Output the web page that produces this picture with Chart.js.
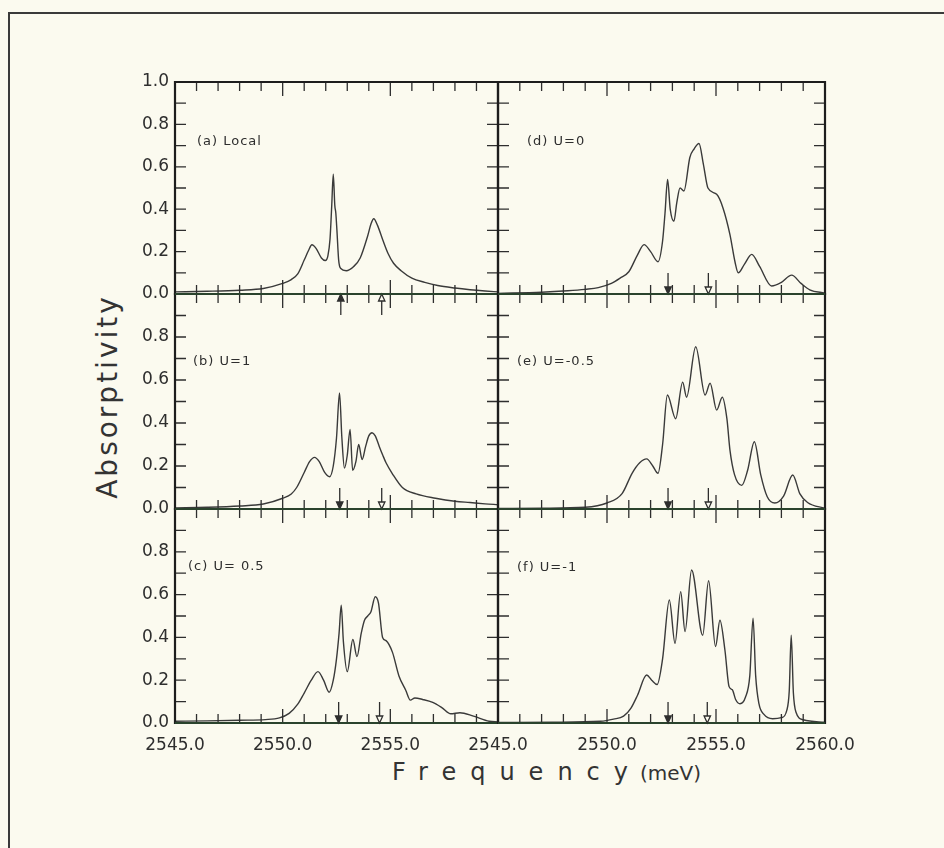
<!DOCTYPE html>
<html>
<head>
<meta charset="utf-8">
<script src="https://cdn.jsdelivr.net/npm/chart.js@4.4.1/dist/chart.umd.min.js"></script>
<style>
  body { margin: 0; background: #fbfaef; }
  #page { position: relative; width: 944px; height: 848px; overflow: hidden; background: #fbfaef;
          font-family: "DejaVu Sans", sans-serif; color: #333; }
  #frame { position: absolute; left: 8px; top: 12px; width: 980px; height: 900px;
           border-left: 2px solid #3a3a3a; border-top: 2px solid #3a3a3a; }
  canvas { position: absolute; }
  #ytitle { position: absolute; left: -42px; top: 382px; width: 300px; height: 32px; line-height: 32px;
            text-align: center; font-size: 28px; letter-spacing: 3px; padding-left: 3px; box-sizing: border-box;
            transform: rotate(-90deg); white-space: nowrap; }
  #xtitle { position: absolute; left: 392px; top: 758px; height: 28px; line-height: 28px; font-size: 24px; white-space: nowrap; }
  #xtitle .freq { letter-spacing: 14px; }
  #xtitle .unit { font-size: 20px; letter-spacing: 0; margin-left: -2px; }
</style>
</head>
<body>
<div id="page">
  <div id="frame"></div>
  <div id="ytitle">Absorptivity</div>
  <div id="xtitle"><span class="freq">Frequency</span><span class="unit">(meV)</span></div>
</div>
<script>
// frequencies (meV) and absorptivity
const freqA = [2545.0, 2546.5, 2548.0, 2549.1, 2550.0, 2550.4, 2550.7, 2551.0, 2551.2, 2551.36, 2551.55, 2551.8, 2551.98, 2552.1, 2552.2, 2552.28, 2552.35, 2552.42, 2552.47, 2552.52, 2552.6, 2552.7, 2552.95, 2553.3, 2553.6, 2553.95, 2554.1, 2554.23, 2554.4, 2554.65, 2554.9, 2555.15, 2555.5, 2556.0, 2556.6, 2557.2, 2558.0, 2558.7, 2559.4, 2560.0];
const absA  = [0.01, 0.013, 0.018, 0.026, 0.05, 0.068, 0.095, 0.16, 0.205, 0.232, 0.215, 0.17, 0.158, 0.18, 0.26, 0.42, 0.565, 0.42, 0.38, 0.3, 0.16, 0.12, 0.11, 0.13, 0.17, 0.275, 0.33, 0.355, 0.325, 0.255, 0.19, 0.145, 0.11, 0.075, 0.055, 0.04, 0.028, 0.02, 0.014, 0.01];

const freqB = [2545.0, 2546.5, 2548.0, 2549.1, 2550.0, 2550.4, 2550.65, 2551.0, 2551.25, 2551.48, 2551.7, 2551.95, 2552.18, 2552.35, 2552.5, 2552.64, 2552.75, 2552.87, 2553.0, 2553.13, 2553.25, 2553.4, 2553.53, 2553.69, 2553.85, 2554.0, 2554.15, 2554.3, 2554.49, 2554.65, 2554.8, 2555.09, 2555.56, 2556.2, 2557.1, 2558.0, 2558.7, 2559.4, 2560.0];
const absB  = [0.005, 0.008, 0.014, 0.023, 0.05, 0.07, 0.10, 0.17, 0.22, 0.24, 0.22, 0.17, 0.15, 0.2, 0.33, 0.54, 0.33, 0.19, 0.25, 0.37, 0.18, 0.22, 0.30, 0.23, 0.29, 0.34, 0.355, 0.34, 0.29, 0.25, 0.215, 0.165, 0.10, 0.07, 0.05, 0.036, 0.03, 0.024, 0.02];

const freqC = [2545.0, 2546.5, 2548.0, 2549.2, 2549.85, 2550.3, 2550.7, 2551.0, 2551.33, 2551.64, 2551.9, 2552.16, 2552.35, 2552.5, 2552.62, 2552.72, 2552.82, 2553.0, 2553.26, 2553.45, 2553.65, 2553.8, 2553.95, 2554.1, 2554.3, 2554.45, 2554.64, 2554.8, 2555.1, 2555.4, 2555.72, 2555.93, 2556.14, 2556.5, 2556.97, 2557.39, 2557.81, 2558.23, 2558.86, 2559.59, 2560.0];
const absC  = [0.008, 0.01, 0.013, 0.016, 0.024, 0.045, 0.088, 0.14, 0.2, 0.24, 0.2, 0.144, 0.2, 0.3, 0.42, 0.55, 0.38, 0.24, 0.39, 0.31, 0.42, 0.48, 0.50, 0.52, 0.59, 0.56, 0.40, 0.385, 0.33, 0.22, 0.152, 0.107, 0.117, 0.11, 0.096, 0.072, 0.043, 0.048, 0.032, 0.008, 0.005];

const freqD = [2545.0, 2547.0, 2548.2, 2549.0, 2549.6, 2550.2, 2550.6, 2551.0, 2551.4, 2551.7, 2552.0, 2552.34, 2552.55, 2552.66, 2552.78, 2552.9, 2553.07, 2553.2, 2553.35, 2553.53, 2553.8, 2554.0, 2554.22, 2554.42, 2554.63, 2555.03, 2555.32, 2555.64, 2555.87, 2556.02, 2556.3, 2556.64, 2557.0, 2557.55, 2558.0, 2558.47, 2558.9, 2559.3, 2560.0];
const absD  = [0.003, 0.008, 0.015, 0.022, 0.03, 0.05, 0.075, 0.105, 0.185, 0.233, 0.2, 0.152, 0.25, 0.38, 0.54, 0.4, 0.343, 0.43, 0.50, 0.486, 0.644, 0.685, 0.71, 0.613, 0.50, 0.47, 0.406, 0.28, 0.152, 0.10, 0.14, 0.187, 0.13, 0.038, 0.055, 0.089, 0.05, 0.02, 0.004];

const freqE = [2545.0, 2547.0, 2549.0, 2550.0, 2550.7, 2551.15, 2551.5, 2551.82, 2552.1, 2552.34, 2552.55, 2552.77, 2553.15, 2553.47, 2553.65, 2554.07, 2554.5, 2554.73, 2555.03, 2555.29, 2555.5, 2555.64, 2555.85, 2556.18, 2556.45, 2556.76, 2557.05, 2557.35, 2557.7, 2558.1, 2558.52, 2558.85, 2559.2, 2560.0];
const absE  = [0.002, 0.004, 0.008, 0.028, 0.073, 0.166, 0.215, 0.233, 0.2, 0.166, 0.3, 0.53, 0.42, 0.59, 0.52, 0.755, 0.53, 0.585, 0.46, 0.52, 0.42, 0.274, 0.16, 0.11, 0.18, 0.313, 0.16, 0.057, 0.028, 0.06, 0.158, 0.07, 0.03, 0.003];

const freqF = [2545.0, 2547.5, 2549.7, 2550.3, 2550.76, 2551.1, 2551.4, 2551.82, 2552.05, 2552.3, 2552.55, 2552.86, 2553.12, 2553.38, 2553.58, 2553.88, 2554.39, 2554.66, 2554.98, 2555.18, 2555.41, 2555.6, 2555.75, 2555.9, 2556.1, 2556.35, 2556.55, 2556.7, 2556.82, 2556.97, 2557.2, 2557.6, 2558.0, 2558.25, 2558.36, 2558.45, 2558.55, 2558.67, 2559.0, 2560.0];
const absF  = [0.002, 0.004, 0.008, 0.018, 0.032, 0.07, 0.13, 0.224, 0.2, 0.18, 0.3, 0.575, 0.372, 0.614, 0.427, 0.715, 0.41, 0.665, 0.357, 0.48, 0.34, 0.17, 0.155, 0.11, 0.09, 0.12, 0.22, 0.49, 0.22, 0.09, 0.04, 0.02, 0.025, 0.06, 0.15, 0.41, 0.14, 0.05, 0.015, 0.004];

const panelLabels = ['(a) Local', '(b) U=1', '(c) U= 0.5', '(d) U=0', '(e) U=-0.5', '(f) U=-1'];
// filled and open arrows on the frequency axis (meV)
const filledArrowAt = [2552.7, 2552.65, 2552.6, 2552.8, 2552.8, 2552.8];
const openArrowAt   = [2554.6, 2554.6, 2554.5, 2554.65, 2554.65, 2554.6];

const FONT = '"DejaVu Sans", sans-serif';
const INK = '#2e2e2e';
const AXIS_GREEN = '#2a432d';
const BG = '#fbfaef';

// plot layout (pixels)
const ROW_TOP = [82, 294, 509];
const ROW_BOTTOM = [294, 509, 723];
const COL_LEFT = [175, 498];
const COL_RIGHT = [498, 825];

const panels = [
  { f: freqA, v: absA, row: 0, col: 0, dx: 22, dy: 60 },
  { f: freqB, v: absB, row: 1, col: 0, dx: 18, dy: 68 },
  { f: freqC, v: absC, row: 2, col: 0, dx: 13, dy: 58 },
  { f: freqD, v: absD, row: 0, col: 1, dx: 29, dy: 60 },
  { f: freqE, v: absE, row: 1, col: 1, dx: 19, dy: 68 },
  { f: freqF, v: absF, row: 2, col: 1, dx: 19, dy: 59 }
];

function drawArrow(ctx, px, y0, up, filled) {
  const s = up ? 1 : -1;
  const tail = y0 + s * 21, base = y0 + s * 7;
  ctx.lineWidth = 1.3;
  ctx.strokeStyle = INK;
  ctx.beginPath();
  ctx.moveTo(px, tail);
  ctx.lineTo(px, base);
  ctx.stroke();
  ctx.beginPath();
  ctx.moveTo(px, y0);
  ctx.lineTo(px - 3.2, base);
  ctx.lineTo(px + 3.2, base);
  ctx.closePath();
  ctx.fillStyle = filled ? INK : BG;
  ctx.fill();
  ctx.stroke();
}

// frame, inward ticks, arrows and panel label
const panelDecor = {
  id: 'panelDecor',
  afterDatasetsDraw(chart, args, o) {
    const ctx = chart.ctx, a = chart.chartArea;
    const x = chart.scales.x, y = chart.scales.y;
    ctx.save();
    ctx.strokeStyle = INK;
    ctx.lineWidth = 1.3;
    ctx.beginPath();
    x.ticks.forEach(t => {
      const px = x.getPixelForValue(t.value);
      const len = Math.round(t.value) % 5 === 0 ? 14 : 9;
      ctx.moveTo(px, a.top); ctx.lineTo(px, a.top + len);
      ctx.moveTo(px, a.bottom); ctx.lineTo(px, a.bottom - len);
    });
    y.ticks.forEach(t => {
      const py = y.getPixelForValue(t.value);
      ctx.moveTo(a.left, py); ctx.lineTo(a.left + 11, py);
      ctx.moveTo(a.right, py); ctx.lineTo(a.right - 11, py);
    });
    ctx.stroke();

    ctx.lineWidth = 2.2;
    ctx.strokeStyle = '#1d1d1d';
    ctx.beginPath();
    ctx.moveTo(a.left, a.top - 1); ctx.lineTo(a.left, a.bottom + 1);
    ctx.moveTo(a.right, a.top - 1); ctx.lineTo(a.right, a.bottom + 1);
    ctx.stroke();
    ctx.lineWidth = 2;
    ctx.strokeStyle = o.row === 0 ? '#1d1d1d' : AXIS_GREEN;
    ctx.beginPath(); ctx.moveTo(a.left, a.top); ctx.lineTo(a.right, a.top); ctx.stroke();
    ctx.strokeStyle = AXIS_GREEN;
    ctx.beginPath(); ctx.moveTo(a.left, a.bottom); ctx.lineTo(a.right, a.bottom); ctx.stroke();

    const y0 = y.getPixelForValue(0);
    drawArrow(ctx, x.getPixelForValue(o.filledAt), y0, o.up, true);
    drawArrow(ctx, x.getPixelForValue(o.openAt), y0, o.up, false);

    ctx.fillStyle = INK;
    ctx.font = '13px ' + FONT;
    ctx.letterSpacing = '1px';
    ctx.textBaseline = 'middle';
    ctx.textAlign = 'left';
    ctx.fillText(o.label, a.left + o.dx, a.top + o.dy);
    ctx.restore();
  }
};

const page = document.getElementById('page');

panels.forEach((p, i) => {
  const bottomRow = p.row === 2;
  // paddings leave room for the scales' own label padding so the plot area lands exactly
  const padTop = 18;
  const padBottom = bottomRow ? 0 : 26;
  const xHeight = bottomRow ? 42 : 0;
  const yWidth = p.col === 0 ? 80 : 0;
  const padLeft = p.col === 0 ? 0 : 46;
  const padRight = p.col === 0 ? 14 : 46;
  const plotW = COL_RIGHT[p.col] - COL_LEFT[p.col];
  const plotH = ROW_BOTTOM[p.row] - ROW_TOP[p.row];

  const canvas = document.createElement('canvas');
  canvas.width = padLeft + yWidth + plotW + padRight;
  canvas.height = padTop + plotH + padBottom + xHeight;
  canvas.style.left = (COL_LEFT[p.col] - yWidth - padLeft) + 'px';
  canvas.style.top = (ROW_TOP[p.row] - padTop) + 'px';
  page.appendChild(canvas);

  new Chart(canvas, {
    type: 'line',
    data: {
      datasets: [{
        data: p.f.map((f, k) => ({ x: f, y: p.v[k] })),
        borderColor: '#3a3a3a',
        borderWidth: 1.4,
        pointRadius: 0,
        cubicInterpolationMode: 'monotone',
        fill: false
      }]
    },
    options: {
      responsive: false,
      animation: false,
      devicePixelRatio: 1,
      layout: { padding: { top: padTop, bottom: padBottom, left: padLeft, right: padRight } },
      plugins: {
        legend: { display: false },
        tooltip: { enabled: false },
        panelDecor: {
          row: p.row,
          up: i === 0,
          label: panelLabels[i],
          dx: p.dx, dy: p.dy,
          filledAt: filledArrowAt[i],
          openAt: openArrowAt[i]
        }
      },
      scales: {
        x: {
          type: 'linear', min: 2545, max: 2560,
          afterFit: s => { s.height = xHeight; },
          ticks: {
            stepSize: 1, autoSkip: false, maxRotation: 0, minRotation: 0, padding: 12,
            color: INK, font: { family: FONT, size: 17 },
            callback: v => (bottomRow && Math.round(v) % 5 === 0 && (p.col === 1 || v < 2560)) ? v.toFixed(1) : ''
          },
          grid: { display: false, drawTicks: false },
          border: { display: false }
        },
        y: {
          min: 0, max: 1,
          afterFit: s => { s.width = yWidth; },
          ticks: {
            stepSize: 0.1, autoSkip: false, padding: 6,
            color: INK, font: { family: FONT, size: 17 },
            callback: v => {
              const k = Math.round(v * 10);
              if (p.col === 1 || k % 2 !== 0 || (k === 10 && p.row > 0)) return '';
              return v.toFixed(1);
            }
          },
          grid: { display: false, drawTicks: false },
          border: { display: false }
        }
      }
    },
    plugins: [panelDecor]
  });
});
</script>
</body>
</html>
